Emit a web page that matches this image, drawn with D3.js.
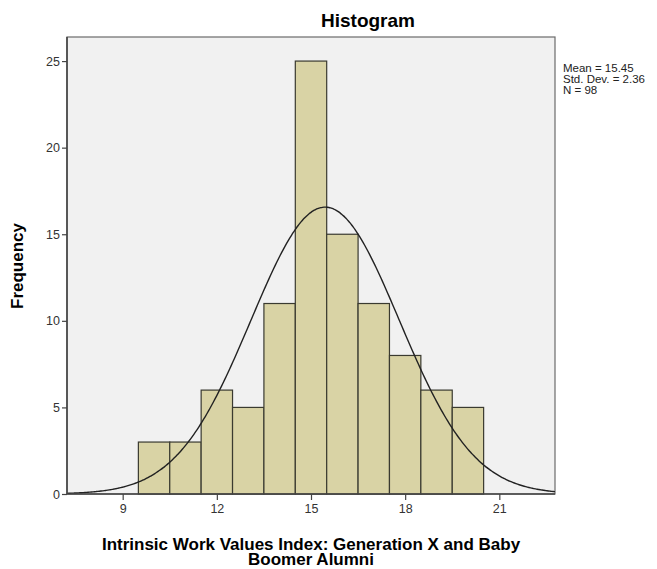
<!DOCTYPE html>
<html>
<head>
<meta charset="utf-8">
<script src="https://cdn.jsdelivr.net/npm/d3@7"></script>
<style>
  body { margin: 0; background: #fff; }
  svg { display: block; font-family: "Liberation Sans", Arial, sans-serif; }
</style>
</head>
<body>
<div id="chart"></div>
<script>
// bins of width 1 (lower edges) and their counts
const binStarts = [9.5, 10.5, 11.5, 12.5, 13.5, 14.5, 15.5, 16.5, 17.5, 18.5, 19.5];
const counts = [3, 3, 6, 5, 11, 25, 15, 11, 8, 6, 5];
const xTicks = [9, 12, 15, 18, 21];
const yTicks = [0, 5, 10, 15, 20, 25];
const mean = 15.45, sd = 2.36, n = 98, binWidth = 1;
const statLines = ["Mean = 15.45", "Std. Dev. = 2.36", "N = 98"];

const W = 657, H = 569;
const margin = { left: 67, right: 102, top: 37, bottom: 75 };

const svg = d3.select("#chart").append("svg")
    .attr("width", W)
    .attr("height", H);

const x = d3.scaleLinear()
    .domain([7.226, 22.774])
    .range([margin.left, W - margin.right]);

const y = d3.scaleLinear()
    .domain([0, 26.39])
    .range([H - margin.bottom, margin.top]);

// plot background
svg.append("rect")
    .attr("x", margin.left)
    .attr("y", margin.top)
    .attr("width", W - margin.left - margin.right)
    .attr("height", H - margin.top - margin.bottom)
    .attr("fill", "#f1f1f1")
    .attr("stroke", "#6b6b6b")
    .attr("stroke-width", 1.2);

// bars
svg.append("g")
    .selectAll("rect")
    .data(binStarts.map((b, i) => ({ x0: b, x1: b + binWidth, c: counts[i] })))
    .join("rect")
    .attr("x", d => x(d.x0))
    .attr("y", d => y(d.c))
    .attr("width", d => x(d.x1) - x(d.x0))
    .attr("height", d => y(0) - y(d.c))
    .attr("fill", "#d9d3a5")
    .attr("stroke", "#3a3a30")
    .attr("stroke-width", 1.2);

// normal curve
const peak = n * binWidth / (sd * Math.sqrt(2 * Math.PI));
const curvePts = d3.range(0, 301).map(i => {
    const xv = x.domain()[0] + (x.domain()[1] - x.domain()[0]) * i / 300;
    return [xv, peak * Math.exp(-0.5 * ((xv - mean) / sd) ** 2)];
});
svg.append("path")
    .datum(curvePts)
    .attr("fill", "none")
    .attr("stroke", "#222")
    .attr("stroke-width", 1.4)
    .attr("d", d3.line().x(d => x(d[0])).y(d => y(d[1])).curve(d3.curveBasis));

// axes
const xAxis = svg.append("g")
    .attr("transform", `translate(0,${H - margin.bottom})`)
    .call(d3.axisBottom(x).tickValues(xTicks).tickSize(6).tickPadding(4));
const yAxis = svg.append("g")
    .attr("transform", `translate(${margin.left},0)`)
    .call(d3.axisLeft(y).tickValues(yTicks).tickSize(5).tickPadding(2));

[xAxis, yAxis].forEach(g => {
    g.select(".domain").attr("stroke", "#444").attr("stroke-width", 1.6);
    g.selectAll(".tick line").attr("stroke", "#444").attr("stroke-width", 1.2);
    g.selectAll(".tick text")
        .attr("fill", "#333")
        .style("font-size", "12.5px")
        .style("font-family", "Liberation Sans, Arial, sans-serif");
});
xAxis.select(".domain").attr("d", `M${margin.left},0H${W - margin.right}`);
yAxis.select(".domain").attr("d", `M0,${margin.top}V${H - margin.bottom}`);

// title
svg.append("text")
    .attr("x", 368)
    .attr("y", 27)
    .attr("text-anchor", "middle")
    .style("font-size", "19px")
    .style("font-weight", "bold")
    .text("Histogram");

// y label
svg.append("text")
    .attr("transform", `translate(23,266) rotate(-90)`)
    .attr("text-anchor", "middle")
    .style("font-size", "17px")
    .style("font-weight", "bold")
    .text("Frequency");

// x label
const xl = svg.append("text")
    .attr("text-anchor", "middle")
    .style("font-size", "17px")
    .style("font-weight", "bold");
xl.append("tspan").attr("x", 311).attr("y", 550).text("Intrinsic Work Values Index: Generation X and Baby");
xl.append("tspan").attr("x", 311).attr("y", 565).text("Boomer Alumni");

// stats box
svg.append("g")
    .selectAll("text")
    .data(statLines)
    .join("text")
    .attr("x", 563)
    .attr("y", (d, i) => 72 + i * 11)
    .style("font-size", "11.5px")
    .attr("fill", "#222")
    .text(d => d);
</script>
</body>
</html>
